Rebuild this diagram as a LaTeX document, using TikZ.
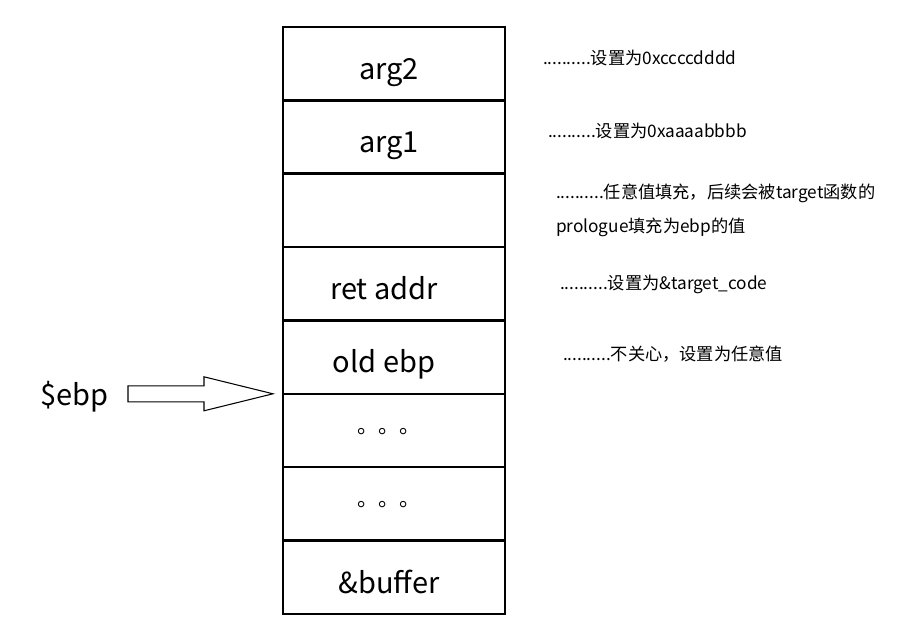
\documentclass[tikz,border=0pt]{standalone}
\usepackage{fontspec}
\setmainfont{Noto Sans CJK SC}
\usetikzlibrary{positioning}

\begin{document}
\begin{tikzpicture}[x=0.02cm,y=-0.02cm,every node/.style={outer sep=0pt},
 cell/.style={draw,line width=1.4pt,minimum width=4.44cm,minimum height=1.4675cm,inner sep=0pt,
   text height=18pt,text depth=0pt,font=\fontsize{16.5}{18}\selectfont},
 note/.style={anchor=west,inner sep=0pt,align=left,font=\fontsize{9.8}{19.3}\selectfont},
 dotsfont/.style={font=\fontsize{12}{12}\selectfont}]
\useasboundingbox (0,0) rectangle (924,631);

% stack frame
\node[cell,anchor=north west] (arg2) at (283,27) {arg2\kern0.2cm};
\node[cell,below=0pt of arg2] (arg1) {arg1\kern0.2cm};
\node[cell,below=0pt of arg1] (fill) {};
\node[cell,below=0pt of fill] (ret) {ret addr\kern0.4cm};
\node[cell,below=0pt of ret] (oldebp) {old ebp\kern0.4cm};
\node[cell,below=0pt of oldebp] (dotsa) {};
\node[cell,below=0pt of dotsa] (dotsb) {};
\node[cell,below=0pt of dotsb] (buf) {\&buffer\kern0.2cm};

\node[dotsfont,inner sep=0pt] (dota) at ([xshift=-0.1cm,yshift=-0.02cm]dotsa.center) {。。。};
\node[dotsfont,inner sep=0pt] (dotb) at ([xshift=-0.1cm,yshift=-0.02cm]dotsb.center) {。。。};

% notes
\node[note] (n1) at (543,58) {..........设置为0xccccdddd};
\node[note] (n2) at (548,131) {..........设置为0xaaaabbbb};
\node[note] (n3) at (556,210) {..........任意值填充，后续会被target函数的\\prologue填充为ebp的值};
\node[note] (n4) at (560,284) {..........设置为\&target\_code};
\node[note] (n5) at (563,354) {..........不关心，设置为任意值};

% ebp pointer
\node[anchor=west,inner sep=0pt,font=\fontsize{16.5}{18}\selectfont] (ebp) at (40,397) {\$ebp};
\coordinate (tip) at ([xshift=-0.2cm]oldebp.south west);
\draw[line width=0.6pt] (tip) -- ++(-69,-17) -- ++(0,9) -- ++(-76,0) -- ++(0,16)
  -- ++(76,0) -- ++(0,9) -- cycle;
\end{tikzpicture}
\end{document}
